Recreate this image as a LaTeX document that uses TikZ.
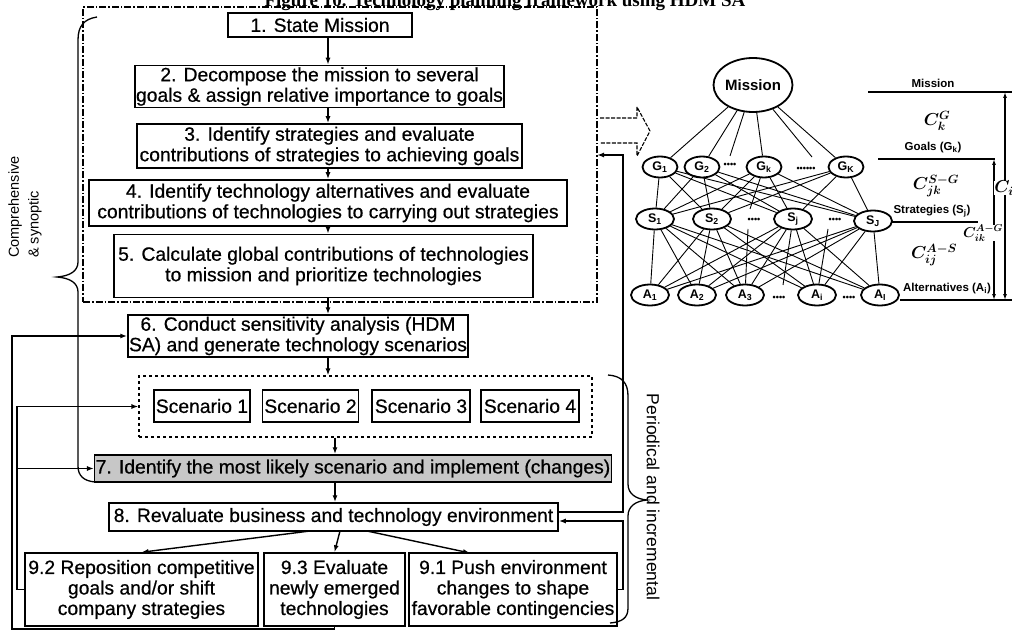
\documentclass[tikz,border=0pt]{standalone}
\usepackage{fontspec}
\setmainfont{Liberation Sans}
\newfontfamily\boxfont{Liberation Sans}[FakeBold=0.6]
\newfontfamily\titlefont{Liberation Serif}
\usetikzlibrary{arrows.meta,shapes.geometric,calc}

\begin{document}
\begin{tikzpicture}[x=1pt,y=-1pt,
  box/.style={draw, line width=1.5pt, inner sep=1pt, align=center,
    font=\boxfont\fontsize{19.3}{20.5}\selectfont},
  arr/.style={line width=1.4pt, -{Latex[length=7pt,width=5pt]}},
  hnode/.style={draw, ellipse, line width=1.8pt, inner sep=0pt, fill=white,
    minimum width=38pt, minimum height=21pt, font=\bfseries\fontsize{12.5}{12.5}\selectfont},
  hline/.style={line width=0.9pt},
  hdots/.style={font=\bfseries\fontsize{9}{9}\selectfont, inner sep=0pt},
  lvl/.style={font=\bfseries\fontsize{11.5}{12}\selectfont, inner sep=0pt},
  cval/.style={font=\fontsize{17}{17}\selectfont\boldmath, inner sep=1pt},
  rline/.style={line width=1.2pt},
  dim/.style={line width=1.1pt, {Latex[length=6pt,width=4pt]}-{Latex[length=6pt,width=4pt]}}
]
\useasboundingbox (0,0) rectangle (1012,631);

% heading of the figure
\node[anchor=base, inner sep=0pt, font=\titlefont\bfseries\fontsize{19}{19}\selectfont] (title) at (505,7)
  {Figure 10. Technology planning framework using HDM SA};

% comprehensive planning frame
\node[draw, line width=1.1pt, dash pattern=on 7pt off 2pt on 1.5pt off 2pt,
  minimum width=514pt, minimum height=295pt, inner sep=0pt] (plan) at (340,154.5) {};

% process steps
\node[box, minimum width=184pt, minimum height=24pt] (b1) at (320,25) {1. State Mission};
\node[box, minimum width=365pt, minimum height=42pt] (b2) at (319.5,86.5)
  {2. Decompose the mission to several\\goals \& assign relative importance to goals};
\node[box, minimum width=385pt, minimum height=44pt] (b3) at (329.5,146)
  {3. Identify strategies and evaluate\\contributions of strategies to achieving goals};
\node[box, minimum width=478pt, minimum height=46pt] (b4) at (328,203)
  {4. Identify technology alternatives and evaluate\\contributions of technologies to carrying out strategies};
\node[box, minimum width=419pt, minimum height=63pt] (b5) at (323.5,266)
  {5. Calculate global contributions of technologies\\to mission and prioritize technologies};
\node[box, minimum width=316pt, minimum height=42pt] (b6) at (298,336)
  {6. Conduct sensitivity analysis (HDM\\SA) and generate technology scenarios};

% scenario group
\node[draw, line width=1.1pt, dashed, minimum width=453pt, minimum height=61pt, inner sep=0pt]
  (scen) at (365.5,406.5) {};
\node[box, minimum width=96pt, minimum height=32pt] (sc1) at (202,406) {Scenario 1};
\node[box, minimum width=96pt, minimum height=32pt] (sc2) at (310.5,406) {Scenario 2};
\node[box, minimum width=98pt, minimum height=32pt] (sc3) at (421,406) {Scenario 3};
\node[box, minimum width=98pt, minimum height=32pt] (sc4) at (530,406) {Scenario 4};

\node[box, fill=black!22, minimum width=512pt, minimum height=27pt] (b7) at (353,468.5)
  {7. Identify the most likely scenario and implement (changes)};
\node[box, minimum width=449pt, minimum height=28pt] (b8) at (333.5,517)
  {8. Revaluate business and technology environment};
\node[box, minimum width=233pt, minimum height=73pt] (n92) at (141.5,589.5)
  {9.2 Reposition competitive\\goals and/or shift\\company strategies};
\node[box, minimum width=141pt, minimum height=73pt] (n93) at (334.5,589.5)
  {9.3 Evaluate\\newly emerged\\technologies};
\node[box, minimum width=208pt, minimum height=73pt] (n91) at (513,589.5)
  {9.1 Push environment\\changes to shape\\favorable contingencies};

% helper columns for the connectors
\coordinate (ax) at (328,0);
\coordinate (ay) at (335,0);
\coordinate (cL1) at (12,0);
\coordinate (cL2) at (17,0);
\coordinate (cR) at (623,0);
\coordinate (bot) at (0,629);
\coordinate (fbk) at (597,155);
\coordinate (o92) at (310,531);
\coordinate (o93) at (340,531);
\coordinate (o91) at (367,531);
\coordinate (t91) at (470,553);
\coordinate (b8out) at ([yshift=5pt]b8.east);
\coordinate (b8in) at ([yshift=-4pt]b8.east);

% main sequence
\draw[arr] (b1.south -| ax) -- (b2.north -| ax);
\draw[arr] (b2.south -| ax) -- (b3.north -| ax);
\draw[arr] (b3.south -| ax) -- (b4.north -| ax);
\draw[arr] (b4.south -| ax) -- (b5.north -| ax);
\draw[arr] (b5.south -| ax) -- (b6.north -| ax);
\draw[arr] (b6.south -| ax) -- (scen.north -| ax);
\draw[arr] (scen.south -| ay) -- (b7.north -| ay);
\draw[arr] (b7.south -| ay) -- (b8.north -| ay);
\draw[arr] (o92) -- (n92.north);
\draw[arr] (o93) -- (n93.north);
\draw[arr] (o91) -- (t91);

% feedback loops on the left
\draw[arr] (n93.south) |- (bot -| cL1) |- (b6.west);
\draw[arr] (n92.west) -| (scen.west -| cL2) -- (scen.west);
\draw[arr] (b7.west -| cL2) -- (b7.west);

% feedback loops on the right
\draw[arr] (b8out) -| (cR |- fbk) -- (fbk);
\draw[arr] (n91.east) -| (cR |- b8in) -- (b8in);

% braces and their captions
\draw[line width=1.3pt] (97,17) .. controls (84,19) and (78,26) .. (78,40)
  -- (78,262) .. controls (78,271) and (70,276) .. (57,277)
  .. controls (70,278) and (78,283) .. (78,292)
  -- (78,466) .. controls (78,476) and (84,481) .. (95,482);
\node[rotate=90, anchor=west, align=left, inner sep=0pt,
  font=\fontsize{14.5}{20}\selectfont] (cs) at (25,258) {Comprehensive\\\& synoptic};

\draw[line width=1.3pt] (608,375) .. controls (622,376) and (628,383) .. (628,396)
  -- (628,484) .. controls (628,494) and (636,499) .. (647,500)
  .. controls (636,501) and (628,506) .. (628,516)
  -- (628,608) .. controls (628,618) and (622,622) .. (610,623);
\node[rotate=-90, inner sep=0pt, font=\fontsize{17.5}{18}\selectfont] (pi) at (653,497)
  {Periodical and incremental};

% hollow arrow towards the hierarchy
\draw[line width=1.1pt, dash pattern=on 4pt off 1.5pt]
  (600,118) -- (637,118) -- (637,107) -- (650,131) -- (637,156) -- (637,143) -- (600,143);

% decision hierarchy
\node[hnode, minimum width=74pt, minimum height=54pt, font=\bfseries\fontsize{15}{15}\selectfont]
  (M) at (753,85) {Mission};
\node[hnode, minimum width=35pt] (G1) at (660,167) {G\textsubscript{1}};
\node[hnode, minimum width=35pt] (G2) at (702,167) {G\textsubscript{2}};
\node[hnode, minimum width=35pt] (Gk) at (764,167) {G\textsubscript{k}};
\node[hnode, minimum width=35pt] (GK) at (846,167) {G\textsubscript{K}};
\node[hnode] (S1) at (655,219) {S\textsubscript{1}};
\node[hnode] (S2) at (712,219) {S\textsubscript{2}};
\node[hnode] (Si) at (793,219) {S\textsubscript{j}};
\node[hnode] (SJ) at (873,221) {S\textsubscript{J}};
\node[hnode] (A1) at (650,295) {A\textsubscript{1}};
\node[hnode] (A2) at (697,295) {A\textsubscript{2}};
\node[hnode] (A3) at (745,295) {A\textsubscript{3}};
\node[hnode] (Ai) at (817,295) {A\textsubscript{i}};
\node[hnode] (AI) at (880,295) {A\textsubscript{I}};

\node[hdots] (dg1) at (730,165) {\textbullet\textbullet\textbullet\textbullet};
\node[hdots] (dg2) at (806,169) {\textbullet\textbullet\textbullet\textbullet\textbullet\textbullet};
\node[hdots] (ds1) at (754,220) {\textbullet\textbullet\textbullet\textbullet};
\node[hdots] (ds2) at (835,220) {\textbullet\textbullet\textbullet\textbullet};
\node[hdots] (da1) at (779,298) {\textbullet\textbullet\textbullet\textbullet};
\node[hdots] (da2) at (849,298) {\textbullet\textbullet\textbullet\textbullet};

\coordinate (mg1) at (730,156);
\coordinate (mg2) at (812,157);
\coordinate (sd1) at (750,209);
\coordinate (sd2) at (748,229);
\coordinate (ad1) at (783,285);
\coordinate (sd3) at (828,229);

\foreach \g in {G1,G2,mg1,Gk,mg2,GK} \draw[hline] (M) -- (\g);
\foreach \g in {G1,G2,Gk,GK}
  \foreach \s in {S1,S2,Si,SJ} \draw[hline] (\g) -- (\s);
\foreach \s in {S1,S2,Si,SJ}
  \foreach \a in {A1,A2,A3,Ai,AI} \draw[hline] (\s) -- (\a);
\draw[hline] (Gk) -- (sd1);
\draw[hline] (sd2) -- (A3);
\draw[hline] (ad1) -- (Si);
\draw[hline] (sd3) -- (Ai);

% level scale
\coordinate (lm1) at (868,92);  \coordinate (lm2) at (1012,92);
\coordinate (lg1) at (878,159); \coordinate (lg2) at (995,159);
\coordinate (ls1) at (892,222); \coordinate (ls2) at (978,222);
\coordinate (la1) at (900,300); \coordinate (la2) at (1012,300);
\draw[rline] (lm1) -- (lm2);
\draw[rline] (lg1) -- (lg2);
\draw[rline] (ls1) -- (ls2);
\draw[rline] (la1) -- (la2);
\coordinate (v1t) at (1005,92);  \coordinate (v1b) at (1005,300);
\coordinate (v2t) at (994,159);  \coordinate (v2b) at (994,300);
\draw[dim] (v1t) -- (v1b);
\draw[dim] (v2t) -- (v2b);

\node[lvl] (lmis) at (933,83) {Mission};
\node[cval] (ckg) at (937,121) {$C^{G}_{k}$};
\node[lvl] (lgoal) at (933,148) {Goals (G\textsubscript{k})};
\node[cval] (cjk) at (936,186) {$C^{S-G}_{jk}$};
\node[lvl] (lstr) at (932,211) {Strategies (S\textsubscript{j})};
\node[cval] (cij) at (934,255) {$C^{A-S}_{ij}$};
\node[lvl] (lalt) at (947,289) {Alternatives (A\textsubscript{i})};
\node[cval, fill=white, inner sep=0pt, font=\fontsize{14}{14}\selectfont\boldmath] (cik) at (983,233) {$C^{A-G}_{ik}$};
\node[cval, fill=white, inner sep=0pt] (ci) at (1004,188) {$C_{i}$};
\end{tikzpicture}
\end{document}
